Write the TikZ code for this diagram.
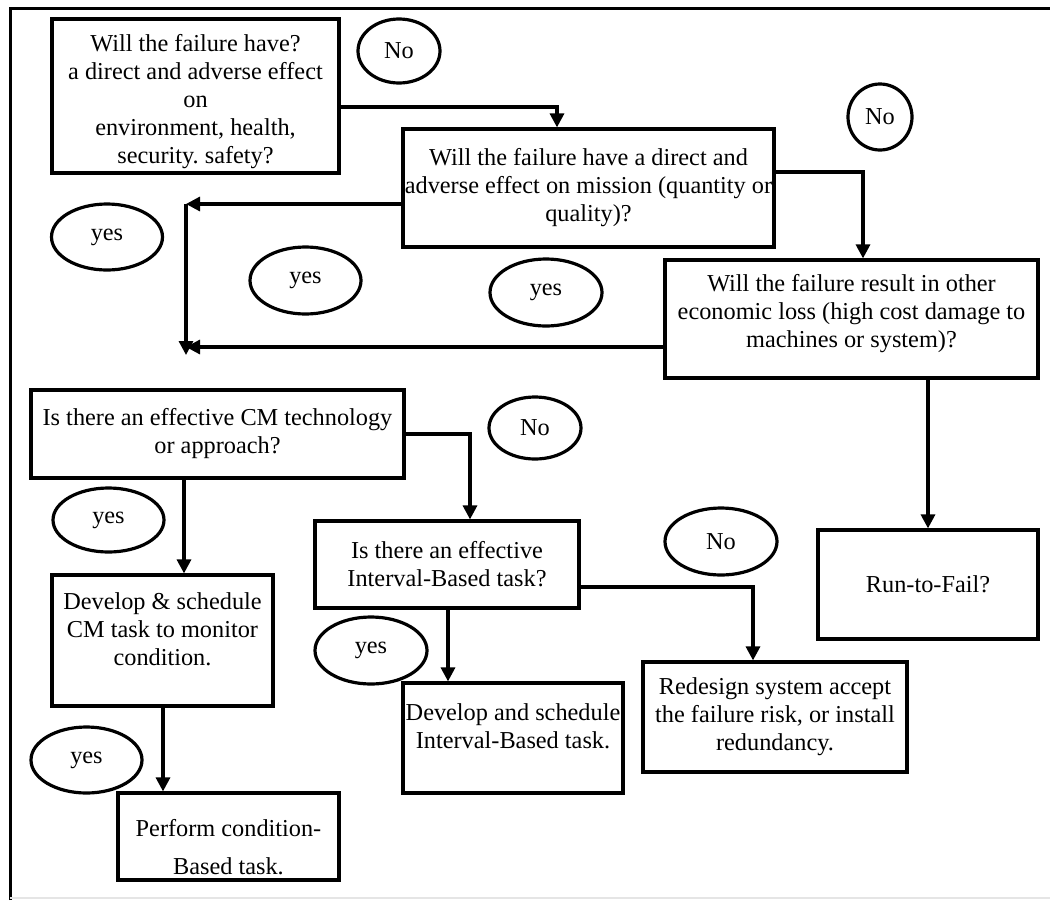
\documentclass[tikz,border=0pt]{standalone}
\usepackage{fontspec}
\setmainfont{Liberation Serif}
\usetikzlibrary{arrows.meta,shapes.geometric}
\frenchspacing

\tikzset{
  qbox/.style={draw, line width=3.2pt, align=center, inner sep=1pt},
  tag/.style={draw, ellipse, line width=3.2pt, inner sep=0pt},
  arr/.style={line width=3.2pt, -{Triangle[length=14pt,width=14pt]}}
}

\begin{document}
\begin{tikzpicture}[x=1pt,y=-1pt,font=\fontsize{24.3}{28}\selectfont]
  \useasboundingbox (0,0) rectangle (1050,900);

  % frame
  \draw[line width=3pt] (10,900) -- (10,8) -- (1050,8);
  \draw[black!10, line width=2pt] (10,898) -- (1050,898);

  % questions
  \node[qbox, minimum width=287, minimum height=154] (safe) at (195.5,96)
    {\rule{0pt}{28pt}Will the failure have?\\a direct and adverse effect\\on\\environment, health,\\security. safety?};
  \node[qbox, minimum width=371, minimum height=118] (mission) at (588.5,188)
    {Will the failure have a direct and\\adverse effect on mission (quantity or\\quality)?};
  \node[qbox, minimum width=373, minimum height=118] (econ) at (851.5,319)
    {Will the failure result in other\\economic loss (high cost damage to\\machines or system)?\rule[-16pt]{0pt}{0pt}};
  \node[qbox, minimum width=373, minimum height=88] (cmq) at (217.5,434)
    {Is there an effective CM technology\\or approach?};
  \node[qbox, minimum width=264, minimum height=87] (ibq) at (447,564.5)
    {Is there an effective\\Interval-Based task?};

  % tasks
  \node[qbox, minimum width=220, minimum height=109] (run) at (928,584.5) {Run-to-Fail?};
  \node[qbox, minimum width=221, minimum height=131] (cmtask) at (162.5,640.5)
    {Develop \& schedule\\CM task to monitor\\condition.\rule[-22pt]{0pt}{0pt}};
  \node[qbox, minimum width=220, minimum height=110] (ibtask) at (513,738)
    {Develop and schedule\\Interval-Based task.\rule[-24pt]{0pt}{0pt}};
  \node[qbox, minimum width=264, minimum height=110] (redesign) at (775,717)
    {Redesign system accept\\the failure risk, or install\\redundancy.};
  \node[qbox, minimum width=221, minimum height=87] (perform) at (228.5,836.5)
    {\rule{0pt}{38pt}Perform condition-\\[10pt]Based task.};

  % answers
  \node[tag, minimum width=82, minimum height=64] (no1) at (399,51) {No};
  \node[tag, minimum width=64, minimum height=66] (no2) at (880,117) {No};
  \node[tag, minimum width=92, minimum height=62] (no3) at (535,428) {No};
  \node[tag, minimum width=112, minimum height=67] (no4) at (721,541.5) {No};
  \node[tag, minimum width=111, minimum height=66] (yes1) at (107,237) {yes};
  \node[tag, minimum width=111, minimum height=67] (yes2) at (305.5,280.5) {yes};
  \node[tag, minimum width=112, minimum height=67] (yes3) at (546,292.5) {yes};
  \node[tag, minimum width=111, minimum height=64] (yes4) at (108.5,520) {yes};
  \node[tag, minimum width=112, minimum height=67] (yes5) at (371,650.5) {yes};
  \node[tag, minimum width=111, minimum height=66] (yes6) at (86.5,760) {yes};

  % connectors
  \coordinate (jtop) at (186,204);
  \coordinate (jbot) at (186,355);
  \draw[arr] (safe.east |- 0,107) -| (557,0 |- mission.north);
  \draw[arr] (mission.west |- jtop) -- (jtop);
  \draw[arr] (jtop) -- (jbot);
  \draw[arr] (mission.east |- 0,172) -| (863,0 |- econ.north);
  \draw[arr] (econ.west |- 0,347) -- (jbot |- 0,347);
  \draw[arr] (econ.south -| run.north) -- (run.north);
  \draw[arr] (cmq.east) -| (470,0 |- ibq.north);
  \draw[arr] (cmq.south -| 184,0) -- (184,0 |- cmtask.north);
  \draw[arr] (ibq.south -| 448,0) -- (448,0 |- ibtask.north);
  \draw[arr] (ibq.east |- 0,587) -| (753,0 |- redesign.north);
  \draw[arr] (cmtask.south -| 163,0) -- (163,0 |- perform.north);
\end{tikzpicture}
\end{document}
